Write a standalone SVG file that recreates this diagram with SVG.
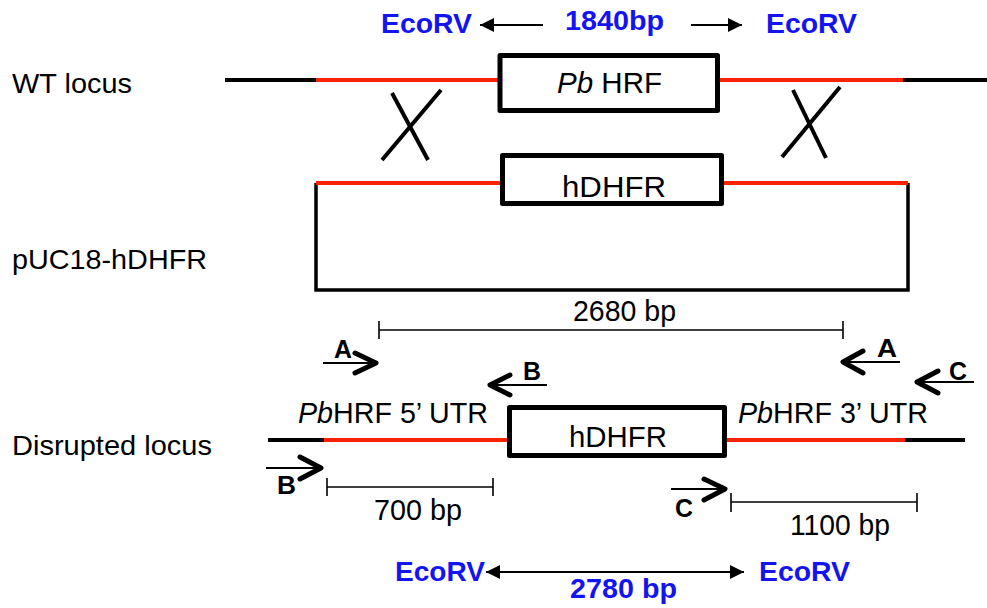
<svg xmlns="http://www.w3.org/2000/svg" width="987" height="608" viewBox="0 0 987 608">
<defs>
<style>
.lbl{font-family:"Liberation Sans",Arial,sans-serif;font-size:28px;fill:#000}
.nar{font-family:"Liberation Sans",Arial,sans-serif;font-size:30px;fill:#000}
.eco{font-family:"Liberation Sans",Arial,sans-serif;font-size:28px;font-weight:bold;fill:#1414f0}
.pr{font-family:"Liberation Sans",Arial,sans-serif;font-size:25px;font-weight:bold;fill:#000}
.blk{stroke:#000;stroke-width:4;fill:none}
.red{stroke:#ff2200;stroke-width:4;fill:none}
.box{stroke:#000;stroke-width:5;fill:#fff;stroke-linejoin:round}
.thin{stroke:#000;stroke-width:1.6;fill:none}
.pl{stroke:#000;stroke-width:2;fill:none}
.chev{stroke:#000;stroke-width:5;fill:none;stroke-linecap:round;stroke-linejoin:round}
.cross{stroke:#000;stroke-width:4;fill:none}
</style>
<marker id="ah" viewBox="0 0 10 10" refX="10" refY="5" markerWidth="18" markerHeight="14" markerUnits="userSpaceOnUse" orient="auto-start-reverse">
<path d="M0,0 L10,5 L0,10 z" fill="#000"/>
</marker>
</defs>

<g id="labels">
<text class="lbl" x="12" y="93" textLength="120" lengthAdjust="spacingAndGlyphs">WT locus</text>
<text class="lbl" x="12" y="269" textLength="195" lengthAdjust="spacingAndGlyphs">pUC18-hDHFR</text>
<text class="lbl" x="12" y="455" textLength="200" lengthAdjust="spacingAndGlyphs">Disrupted locus</text>
</g>

<g id="ecorv-top">
<text class="eco" x="381" y="33" textLength="91" lengthAdjust="spacingAndGlyphs">EcoRV</text>
<text class="eco" x="565" y="30" textLength="99" lengthAdjust="spacingAndGlyphs">1840bp</text>
<text class="eco" x="766" y="33" textLength="91" lengthAdjust="spacingAndGlyphs">EcoRV</text>
</g>

<g id="wt-locus">
<line class="blk" x1="225" y1="80" x2="316" y2="80"/>
<line class="red" x1="316" y1="80" x2="500" y2="80"/>
<line class="red" x1="718" y1="80" x2="903" y2="80"/>
<line class="blk" x1="903" y1="80" x2="987" y2="80"/>
<rect class="box" x="500" y="55.5" width="217.5" height="55"/>
<text class="nar" x="557" y="93" textLength="105" lengthAdjust="spacingAndGlyphs"><tspan font-style="italic">Pb</tspan> HRF</text>
</g>

<g id="crossovers">
<line class="cross" x1="392" y1="93" x2="428" y2="160"/>
<line class="cross" x1="441" y1="90" x2="382" y2="160"/>
<line class="cross" x1="793" y1="90" x2="826" y2="158"/>
<line class="cross" x1="840" y1="87" x2="782" y2="157"/>
</g>

<g id="puc18-hdhfr">
<polyline class="blk" points="316,183 316,290 908,290 908,183" style="stroke-width:3.5"/>
<line class="red" x1="316" y1="183" x2="502" y2="183"/>
<line class="red" x1="722" y1="183" x2="908" y2="183"/>
<rect class="box" x="502.5" y="155.5" width="219" height="48"/>
<text class="nar" x="562" y="197" textLength="104" lengthAdjust="spacingAndGlyphs">hDHFR</text>
</g>

<g id="dim-2680">
<line class="thin" x1="379" y1="330" x2="843" y2="330"/>
<line class="thin" x1="379" y1="321" x2="379" y2="339"/>
<line class="thin" x1="843" y1="321" x2="843" y2="339"/>
<text class="nar" x="573" y="321" textLength="103" lengthAdjust="spacingAndGlyphs">2680 bp</text>
</g>

<g id="primer-A-fwd">
<line class="pl" x1="323" y1="363" x2="375" y2="363"/>
<polyline class="chev" points="355,353 376,363 355,373"/>
<text class="pr" x="334" y="358" textLength="18" lengthAdjust="spacingAndGlyphs">A</text>
</g>
<g id="primer-A-rev">
<line class="pl" x1="844" y1="362" x2="900" y2="362"/>
<polyline class="chev" points="863,351 843,362 863,373"/>
<text class="pr" x="877" y="357" textLength="20" lengthAdjust="spacingAndGlyphs">A</text>
</g>
<g id="primer-B-rev">
<line class="pl" x1="491" y1="385" x2="547" y2="385"/>
<polyline class="chev" points="510,375 490,385 510,395"/>
<text class="pr" x="523" y="380" textLength="18" lengthAdjust="spacingAndGlyphs">B</text>
</g>
<g id="primer-C-rev">
<line class="pl" x1="918" y1="382" x2="974" y2="382"/>
<polyline class="chev" points="938,371 917,382 938,393"/>
<text class="pr" x="949" y="380" textLength="18" lengthAdjust="spacingAndGlyphs">C</text>
</g>

<g id="disrupted-locus">
<line class="blk" x1="268" y1="440" x2="324" y2="440"/>
<line class="red" x1="324" y1="440" x2="509" y2="440"/>
<line class="red" x1="725" y1="440" x2="905" y2="440"/>
<line class="blk" x1="905" y1="440" x2="965" y2="440"/>
<rect class="box" x="509.5" y="407.5" width="215" height="48"/>
<text class="nar" x="569" y="447" textLength="98" lengthAdjust="spacingAndGlyphs">hDHFR</text>
<text class="nar" x="298" y="423" textLength="190" lengthAdjust="spacingAndGlyphs"><tspan font-style="italic">Pb</tspan>HRF 5’ UTR</text>
<text class="nar" x="738" y="423" textLength="190" lengthAdjust="spacingAndGlyphs"><tspan font-style="italic">Pb</tspan>HRF 3’ UTR</text>
</g>

<g id="primer-B-fwd">
<line class="pl" x1="266" y1="468" x2="319" y2="468"/>
<polyline class="chev" points="300,457 321,468 300,479"/>
<text class="pr" x="277" y="494" textLength="19" lengthAdjust="spacingAndGlyphs">B</text>
</g>
<g id="primer-C-fwd">
<line class="pl" x1="671" y1="489" x2="724" y2="489"/>
<polyline class="chev" points="704,479 725,489 704,500"/>
<text class="pr" x="675" y="517" textLength="18" lengthAdjust="spacingAndGlyphs">C</text>
</g>

<g id="dim-700">
<line class="thin" x1="327" y1="487" x2="493" y2="487"/>
<line class="thin" x1="327" y1="478" x2="327" y2="496"/>
<line class="thin" x1="493" y1="478" x2="493" y2="496"/>
<text class="nar" x="374" y="520" textLength="88" lengthAdjust="spacingAndGlyphs">700 bp</text>
</g>
<g id="dim-1100">
<line class="thin" x1="731" y1="502" x2="917" y2="502"/>
<line class="thin" x1="731" y1="493" x2="731" y2="512"/>
<line class="thin" x1="917" y1="493" x2="917" y2="512"/>
<text class="nar" x="790" y="535" textLength="100" lengthAdjust="spacingAndGlyphs">1100 bp</text>
</g>

<g id="ecorv-bottom">
<text class="eco" x="395" y="581" textLength="90" lengthAdjust="spacingAndGlyphs">EcoRV</text>
<text class="eco" x="570" y="598" textLength="107" lengthAdjust="spacingAndGlyphs">2780 bp</text>
<text class="eco" x="759" y="581" textLength="91" lengthAdjust="spacingAndGlyphs">EcoRV</text>
</g>

<g id="connectors">
<line x1="543" y1="25" x2="480" y2="25" stroke="#000" stroke-width="2" marker-end="url(#ah)"/>
<line x1="691" y1="25" x2="742" y2="25" stroke="#000" stroke-width="2" marker-end="url(#ah)"/>
<line x1="486" y1="572" x2="744" y2="572" stroke="#000" stroke-width="2" marker-start="url(#ah)" marker-end="url(#ah)"/>
</g>
</svg>
